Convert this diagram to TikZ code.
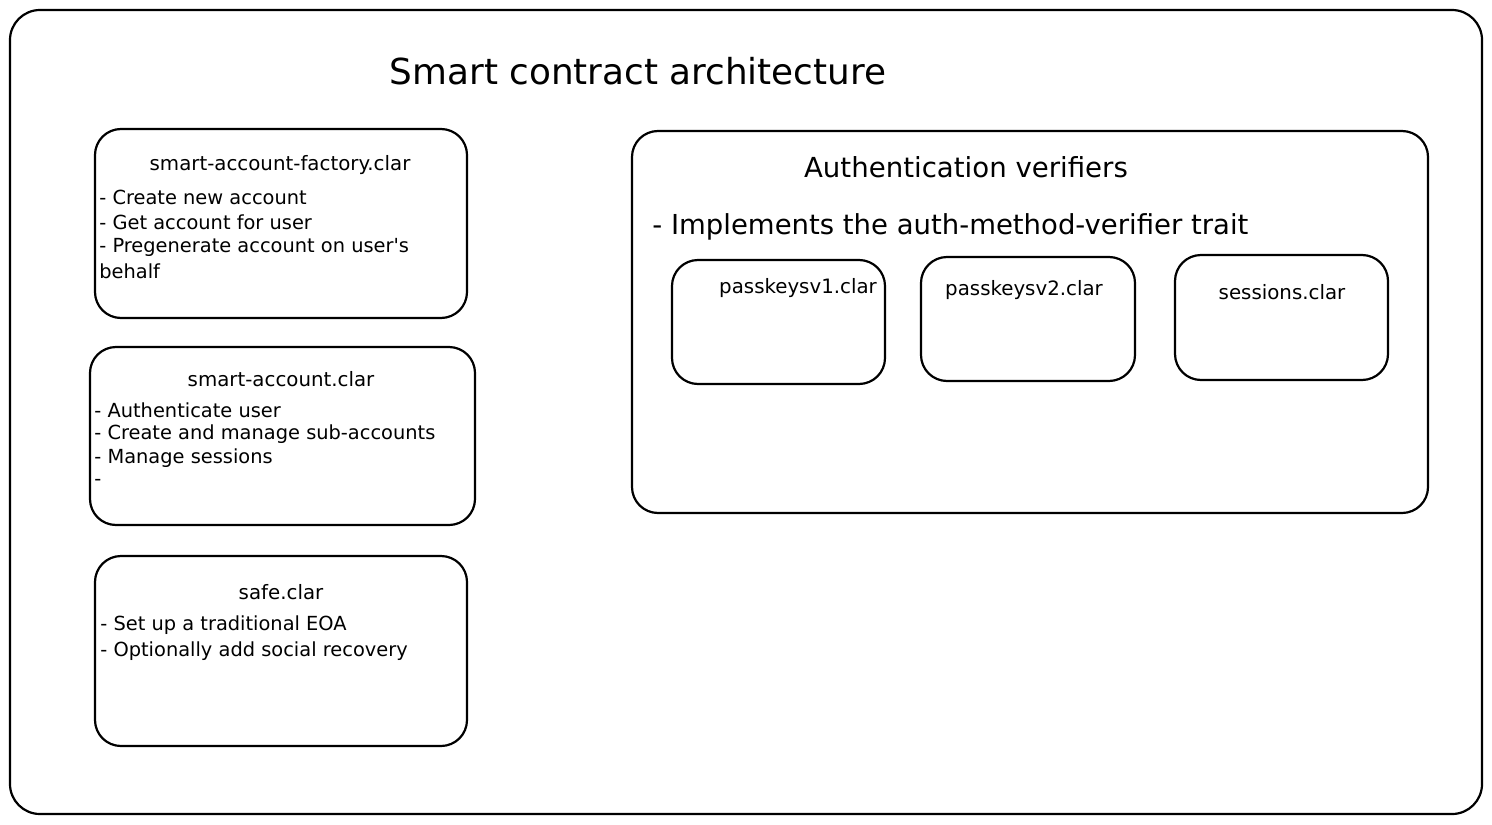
\documentclass[tikz,border=0pt]{standalone}
\usepackage{fontspec}
\setmainfont{DejaVu Sans}[Ligatures=TeXOff]
\begin{document}
\begin{tikzpicture}[x=0.5pt,y=-0.5pt]
\tikzset{
  frame/.style={draw, line width=1.1pt, rounded corners=15pt},
  card/.style={draw, line width=1.1pt, rounded corners=13pt},
  title/.style={font=\fontsize{17.9}{21}\selectfont, inner sep=0pt},
  head/.style={font=\fontsize{9.9}{12}\selectfont, inner sep=0pt},
  item/.style={font=\fontsize{9.7}{12}\selectfont, inner sep=0pt, anchor=west},
  sect/.style={font=\fontsize{13.8}{17}\selectfont, inner sep=0pt},
  subhead/.style={font=\fontsize{13.75}{16}\selectfont, inner sep=0pt, anchor=west},
}
\useasboundingbox (0,0) rectangle (1492,824);
% outer frame
\draw[frame] (10,10) rectangle (1482,814);
\node[title] (t) at (638,71) {Smart contract architecture};

% factory
\draw[card] (95,129) rectangle (467,318);
\node[head] (fh) at (280,165) {smart-account-factory.clar};
\node[item] (f1) at (99,197) {- Create new account};
\node[item] (f2) at (99,222) {- Get account for user};
\node[item] (f3) at (99,247) {- Pregenerate account on user's};
\node[item] (f4) at (99,271) {behalf};

% smart account
\draw[card] (90,347) rectangle (475,525);
\node[head] (sh) at (281,379) {smart-account.clar};
\node[item] (s1) at (94,410) {- Authenticate user};
\node[item] (s2) at (94,434) {- Create and manage sub-accounts};
\node[item] (s3) at (94,458) {- Manage sessions};
\node[item] (s4) at (94,482) {-};

% safe
\draw[card] (95,556) rectangle (467,746);
\node[head] (ah) at (281,592) {safe.clar};
\node[item] (a1) at (100,625) {- Set up a traditional EOA};
\node[item] (a2) at (100,651) {- Optionally add social recovery};

% auth verifiers
\draw[card] (632,131) rectangle (1428,513);
\node[sect] (vh) at (966,167) {Authentication verifiers};
\node[subhead] (vs) at (652,227) {- Implements the auth-method-verifier trait};

\draw[card] (672,260) rectangle (885,384);
\node[head] (p1) at (798,288) {passkeysv1.clar};
\draw[card] (921,257) rectangle (1135,381);
\node[head] (p2) at (1024,290) {passkeysv2.clar};
\draw[card] (1175,255) rectangle (1388,380);
\node[head] (p3) at (1282,292) {sessions.clar};
\end{tikzpicture}
\end{document}
